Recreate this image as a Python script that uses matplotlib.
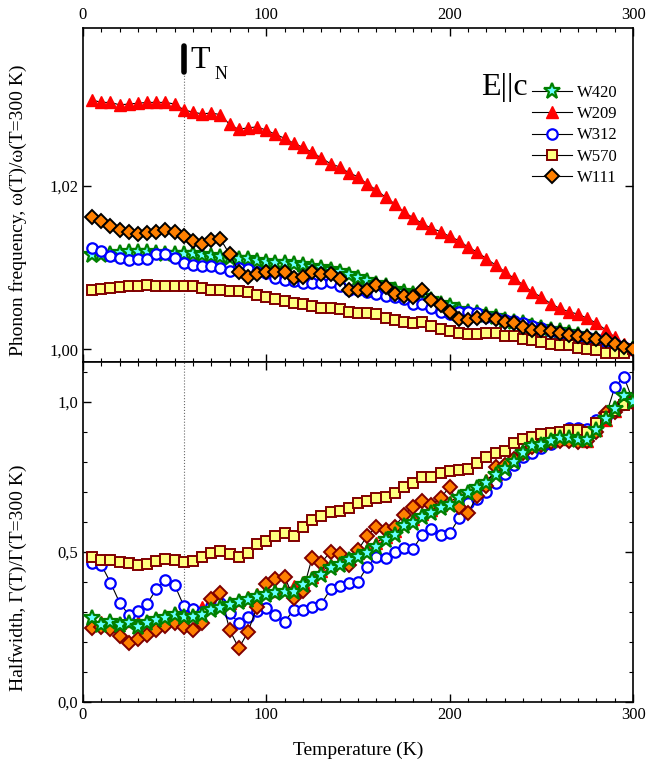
import matplotlib
matplotlib.use('Agg')
import matplotlib.pyplot as plt
from matplotlib.ticker import MultipleLocator, FuncFormatter

plt.rcParams['font.family'] = ['Liberation Serif', 'DejaVu Serif']

# temperature grid (K)
temps = [5, 10, 15, 20, 25, 30, 35, 40, 45, 50, 55, 60, 65, 70, 75, 80, 85, 90, 95, 100,
         105, 110, 115, 120, 125, 130, 135, 140, 145, 150, 155, 160, 165, 170, 175, 180, 185, 190, 195, 200,
         205, 210, 215, 220, 225, 230, 235, 240, 245, 250, 255, 260, 265, 270, 275, 280, 285, 290, 295, 300]

# phonon frequency, w(T)/w(300 K)
freq_w420 = [1.0115, 1.0115, 1.0117, 1.0118, 1.0119, 1.0119, 1.0119, 1.0118, 1.0117, 1.0117,
             1.0117, 1.0116, 1.0115, 1.0114, 1.0113, 1.0112, 1.0111, 1.0110, 1.0108, 1.0107,
             1.0106, 1.0105, 1.0104, 1.0103, 1.0101, 1.0099, 1.0097, 1.0094, 1.0091, 1.0087,
             1.0083, 1.0080, 1.0077, 1.0073, 1.0070, 1.0068, 1.0064, 1.0060, 1.0056, 1.0053,
             1.0048, 1.0046, 1.0044, 1.0042, 1.0039, 1.0036, 1.0034, 1.0032, 1.0029, 1.0026,
             1.0024, 1.0022, 1.0020, 1.0018, 1.0015, 1.0012, 1.0009, 1.0005, 1.0001, 1.0000]
freq_w209 = [1.0305, 1.0302, 1.0302, 1.0299, 1.0300, 1.0301, 1.0302, 1.0302, 1.0302, 1.0300,
             1.0293, 1.0290, 1.0288, 1.0289, 1.0287, 1.0275, 1.0269, 1.0271, 1.0272, 1.0268,
             1.0263, 1.0258, 1.0252, 1.0247, 1.0241, 1.0234, 1.0227, 1.0223, 1.0216, 1.0211,
             1.0202, 1.0195, 1.0186, 1.0178, 1.0168, 1.0161, 1.0154, 1.0148, 1.0144, 1.0138,
             1.0133, 1.0125, 1.0119, 1.0111, 1.0103, 1.0095, 1.0087, 1.0079, 1.0070, 1.0064,
             1.0056, 1.0050, 1.0046, 1.0043, 1.0038, 1.0032, 1.0024, 1.0015, 1.0007, 1.0000]
freq_w312 = [1.0124, 1.0120, 1.0114, 1.0112, 1.0109, 1.0110, 1.0111, 1.0116, 1.0117, 1.0112,
             1.0106, 1.0103, 1.0102, 1.0102, 1.0099, 1.0096, 1.0099, 1.0098, 1.0095, 1.0093,
             1.0087, 1.0085, 1.0083, 1.0081, 1.0081, 1.0081, 1.0082, 1.0077, 1.0073, 1.0073,
             1.0070, 1.0068, 1.0065, 1.0064, 1.0062, 1.0056, 1.0056, 1.0050, 1.0046, 1.0043,
             1.0046, 1.0046, 1.0045, 1.0040, 1.0038, 1.0036, 1.0035, 1.0032, 1.0028, 1.0026,
             1.0023, 1.0020, 1.0018, 1.0016, 1.0015, 1.0012, 1.0009, 1.0007, 1.0003, 1.0000]
freq_w570 = [1.0073, 1.0074, 1.0075, 1.0076, 1.0077, 1.0077, 1.0079, 1.0078, 1.0077, 1.0077,
             1.0077, 1.0077, 1.0075, 1.0073, 1.0072, 1.0071, 1.0071, 1.0070, 1.0067, 1.0064,
             1.0061, 1.0059, 1.0057, 1.0055, 1.0053, 1.0050, 1.0050, 1.0049, 1.0046, 1.0045,
             1.0044, 1.0043, 1.0038, 1.0036, 1.0034, 1.0032, 1.0034, 1.0028, 1.0025, 1.0023,
             1.0020, 1.0019, 1.0019, 1.0020, 1.0020, 1.0016, 1.0016, 1.0012, 1.0011, 1.0009,
             1.0007, 1.0005, 1.0005, 1.0001, 1.0000, 0.9999, 0.9996, 0.9995, 0.9996, 1.0000]
freq_w111 = [1.0162, 1.0157, 1.0151, 1.0146, 1.0143, 1.0141, 1.0142, 1.0144, 1.0146, 1.0144,
             1.0139, 1.0132, 1.0129, 1.0134, 1.0135, 1.0116, 1.0095, 1.0089, 1.0092, 1.0094,
             1.0095, 1.0095, 1.0087, 1.0088, 1.0094, 1.0092, 1.0092, 1.0086, 1.0073, 1.0073,
             1.0073, 1.0079, 1.0076, 1.0068, 1.0065, 1.0064, 1.0073, 1.0060, 1.0054, 1.0046,
             1.0037, 1.0036, 1.0038, 1.0040, 1.0037, 1.0033, 1.0032, 1.0027, 1.0024, 1.0024,
             1.0022, 1.0020, 1.0018, 1.0016, 1.0015, 1.0013, 1.0011, 1.0007, 1.0003, 1.0000]

# halfwidth, G(T)/G(300 K)
hw_w420 = [0.278, 0.256, 0.267, 0.256, 0.263, 0.250, 0.261, 0.272, 0.278, 0.289,
           0.283, 0.281, 0.289, 0.306, 0.311, 0.322, 0.333, 0.339, 0.348, 0.356,
           0.363, 0.367, 0.367, 0.389, 0.406, 0.422, 0.445, 0.456, 0.472, 0.483,
           0.497, 0.517, 0.539, 0.556, 0.586, 0.597, 0.617, 0.628, 0.645, 0.656,
           0.678, 0.695, 0.711, 0.728, 0.756, 0.775, 0.800, 0.828, 0.852, 0.856,
           0.870, 0.878, 0.878, 0.872, 0.872, 0.906, 0.941, 0.975, 1.017, 1.000]
hw_w209 = [0.270, 0.265, 0.270, 0.262, 0.270, 0.265, 0.270, 0.280, 0.285, 0.295,
           0.300, 0.310, 0.315, 0.320, 0.325, 0.330, 0.340, 0.350, 0.360, 0.365,
           0.370, 0.375, 0.385, 0.400, 0.415, 0.435, 0.455, 0.470, 0.480, 0.495,
           0.510, 0.530, 0.550, 0.570, 0.595, 0.610, 0.625, 0.640, 0.655, 0.665,
           0.685, 0.700, 0.720, 0.740, 0.760, 0.780, 0.805, 0.830, 0.850, 0.860,
           0.870, 0.875, 0.880, 0.875, 0.870, 0.905, 0.940, 0.970, 1.000, 1.000]
hw_w312 = [0.461, 0.456, 0.397, 0.330, 0.289, 0.302, 0.326, 0.375, 0.406, 0.389,
           0.319, 0.310, 0.300, 0.320, 0.330, 0.295, 0.263, 0.281, 0.303, 0.313,
           0.289, 0.267, 0.306, 0.306, 0.315, 0.326, 0.375, 0.386, 0.397, 0.400,
           0.450, 0.483, 0.478, 0.500, 0.511, 0.509, 0.556, 0.575, 0.556, 0.561,
           0.611, 0.661, 0.675, 0.700, 0.730, 0.760, 0.790, 0.815, 0.830, 0.845,
           0.860, 0.875, 0.911, 0.911, 0.910, 0.939, 0.950, 1.048, 1.083, 1.000]
hw_w570 = [0.483, 0.472, 0.472, 0.467, 0.463, 0.455, 0.459, 0.470, 0.475, 0.472,
           0.467, 0.469, 0.483, 0.497, 0.501, 0.492, 0.483, 0.497, 0.525, 0.536,
           0.552, 0.563, 0.553, 0.581, 0.606, 0.619, 0.633, 0.637, 0.647, 0.661,
           0.670, 0.678, 0.683, 0.695, 0.717, 0.728, 0.750, 0.748, 0.763, 0.770,
           0.772, 0.777, 0.795, 0.815, 0.830, 0.837, 0.863, 0.875, 0.883, 0.892,
           0.897, 0.900, 0.906, 0.906, 0.900, 0.930, 0.950, 0.970, 0.990, 1.000]
hw_w111 = [0.245, 0.248, 0.241, 0.219, 0.197, 0.208, 0.222, 0.239, 0.252, 0.263,
           0.250, 0.239, 0.263, 0.341, 0.361, 0.239, 0.178, 0.233, 0.317, 0.392,
           0.408, 0.415, 0.345, 0.370, 0.480, 0.463, 0.500, 0.492, 0.456, 0.506,
           0.552, 0.583, 0.572, 0.583, 0.622, 0.650, 0.670, 0.656, 0.678, 0.717,
           0.650, 0.630, 0.686, 0.720, 0.783, 0.790, 0.810, 0.830, 0.850, 0.855,
           0.865, 0.870, 0.870, 0.865, 0.870, 0.900, 0.963, 0.965, 0.995, 1.000]

T_NEEL = 55

# marker styles per sample
sty_w420 = dict(marker='*', ms=12, mfc='#66FFFF', mec='#008000', mew=1.6)
sty_w209 = dict(marker='^', ms=8.5, mfc='#FF0000', mec='#FF0000', mew=1.0)
sty_w312 = dict(marker='o', ms=7.5, mfc='white', mec='#0000FF', mew=1.6)
sty_w570 = dict(marker='s', ms=7, mfc='#FFFF80', mec='#800000', mew=1.4)
sty_w111 = dict(marker='D', ms=7, mfc='#FF8000', mec='black', mew=1.4)
line_kw = dict(color='black', lw=0.8)

fig = plt.figure(figsize=(6.48, 7.71), dpi=100)
ax1 = fig.add_axes([0.128, 0.5305, 0.849, 0.4332])
ax2 = fig.add_axes([0.128, 0.0899, 0.849, 0.4406])

# top panel: frequency
ax1.plot(temps, freq_w420, label='W420', zorder=3, **line_kw, **sty_w420)
ax1.plot(temps, freq_w209, label='W209', zorder=4, **line_kw, **sty_w209)
ax1.plot(temps, freq_w312, label='W312', zorder=5, **line_kw, **sty_w312)
ax1.plot(temps, freq_w570, label='W570', zorder=6, **line_kw, **sty_w570)
ax1.plot(temps, freq_w111, label='W111', zorder=7, **line_kw, **sty_w111)

# bottom panel: halfwidth
ax2.plot(temps, hw_w209, zorder=3, **line_kw, **sty_w209)
ax2.plot(temps, hw_w312, zorder=4, **line_kw, **sty_w312)
ax2.plot(temps, hw_w111, zorder=5, **line_kw, **dict(sty_w111, mec='#800000'))
ax2.plot(temps, hw_w570, zorder=6, **line_kw, **sty_w570)
ax2.plot(temps, hw_w420, zorder=7, **line_kw, **sty_w420)

ylo1, yhi1 = 0.99845, 1.0393
ax1.set_xlim(0, 300)
ax1.set_ylim(ylo1, yhi1)
ax2.set_xlim(0, 300)
ax2.set_ylim(0, 1.132)

# Neel temperature marker
ax1.plot([T_NEEL, T_NEEL], [1.0339, 1.0371], color='black', lw=4, solid_capstyle='round', zorder=8)
ax1.plot([T_NEEL, T_NEEL], [ylo1, 1.0339], color='dimgray', lw=0.8, ls=':', zorder=1)
ax2.axvline(T_NEEL, color='dimgray', lw=0.8, ls=':', zorder=1)
ax1.text(58.5, 1.03537, 'T', fontsize=23, va='center', ha='left')
ax1.text(71.5, 1.03365, 'N', fontsize=13, va='center', ha='left')
ax1.text(217, 1.0320, 'E||c', fontsize=23, va='center', ha='left')

comma2 = FuncFormatter(lambda v, p: f'{v:.2f}'.replace('.', ','))
comma1 = FuncFormatter(lambda v, p: f'{v:.1f}'.replace('.', ','))

for ax in (ax1, ax2):
    ax.xaxis.set_major_locator(MultipleLocator(100))
    ax.xaxis.set_minor_locator(MultipleLocator(10))
    ax.tick_params(which='both', direction='in', top=True, right=True, labelsize=12)
    ax.tick_params(which='major', length=6, width=1.0)
    ax.tick_params(which='minor', length=3, width=0.8)
    for s in ax.spines.values():
        s.set_linewidth(1.2)

ax1.yaxis.set_major_locator(MultipleLocator(0.02))
ax1.yaxis.set_major_formatter(comma2)
ax1.tick_params(labeltop=True, labelbottom=False)
ax2.yaxis.set_major_locator(MultipleLocator(0.5))
ax2.yaxis.set_minor_locator(MultipleLocator(0.1))
ax2.yaxis.set_major_formatter(comma1)

ax1.set_ylabel('Phonon frequency, \u03c9(T)/\u03c9(T=300 K)', fontsize=14)
ax1.yaxis.set_label_coords(-0.102, 0.455)
ax2.set_ylabel('Halfwidth, \u0393(T)/\u0393(T=300 K)', fontsize=14)
ax2.yaxis.set_label_coords(-0.102, 0.365)
ax2.set_xlabel('Temperature (K)', fontsize=14, labelpad=14)

ax1.legend(loc='upper right', bbox_to_anchor=(0.99, 0.86), frameon=False, fontsize=12,
           handlelength=2.4, handletextpad=0.3, labelspacing=0.32, borderaxespad=0.2)

fig.savefig('out.png', dpi=100)
